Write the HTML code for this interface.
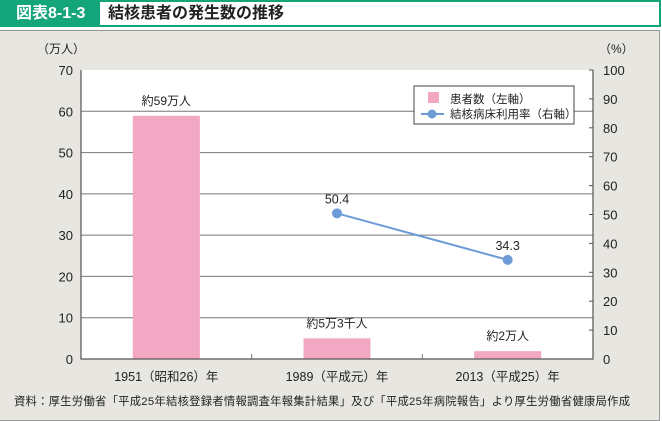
<!DOCTYPE html>
<html><head><meta charset="utf-8"><style>
body{margin:0;width:662px;height:421px;background:#fff;font-family:"Liberation Sans","Noto Sans CJK JP",sans-serif;overflow:hidden;position:relative}
.hdr{position:absolute;left:0;top:0;width:657px;height:23px;border:2px solid #14a57a;background:#fff}
.lab{position:absolute;left:0;top:0;width:98px;height:23px;background:#14a57a;color:#fff;font-size:16px;font-weight:bold;line-height:23px;text-indent:14px}
.ttl{position:absolute;left:106px;top:0;font-size:16px;font-weight:bold;line-height:23px;color:#222}
.panel{position:absolute;left:0;top:30px;width:659px;height:389px;background:#e8e6e0;border:1px solid #999;border-left:none}
svg{position:absolute;left:0;top:0}
text{font-family:"Liberation Sans","Noto Sans CJK JP",sans-serif;fill:#222}
</style></head><body>
<div class="hdr"><div class="lab">図表8-1-3</div><div class="ttl">結核患者の発生数の推移</div></div>
<div class="panel"></div>
<svg id="c" width="662" height="421"></svg>
<script>
const categories=["1951（昭和26）年","1989（平成元）年","2013（平成25）年"];
const patients=[58.9,5.0,1.9];
const patientLabels=["約59万人","約5万3千人","約2万人"];
const bedRate=[null,50.4,34.3];
const leftTicks=[0,10,20,30,40,50,60,70];
const rightTicks=[0,10,20,30,40,50,60,70,80,90,100];
const L=81,R=593,T=70,B=359;
const yL=v=>B-(B-T)*v/70, yR=v=>B-(B-T)*v/100;
const band=(R-L)/3, xC=i=>L+band*(i+0.5);
const s=document.getElementById('c');const NS='http://www.w3.org/2000/svg';
function el(t,a,txt){const e=document.createElementNS(NS,t);for(const k in a)e.setAttribute(k,a[k]);if(txt!=null)e.textContent=txt;s.appendChild(e);return e;}
let e=el('rect',{x:L,y:T,width:R-L,height:B-T,fill:'#fff'});

leftTicks.forEach(v=>{const y=yL(v);
 if(v>0&&v<70){e=el('line',{x1:L,x2:R,y1:y,y2:y,stroke:'#777','stroke-width':1});}
 e=el('text',{x:L-8,y:y+5,'text-anchor':'end','font-size':13},v);});
rightTicks.forEach(v=>{const y=yR(v);
 e=el('line',{x1:R-4,x2:R,y1:y,y2:y,stroke:'#555'});
 e=el('text',{x:R+10,y:y+5,'font-size':13},v);});
for(let i=1;i<3;i++){e=el('line',{x1:L+band*i,x2:L+band*i,y1:B-5,y2:B,stroke:'#777'});}
patients.forEach((v,i)=>{const w=67;
 e=el('rect',{x:xC(i)-w/2,y:yL(v),width:w,height:B-yL(v),fill:'#f2a8c2'});
 e=el('text',{x:xC(i),y:yL(v)-11,'text-anchor':'middle','font-size':12},patientLabels[i]);
 e=el('text',{x:xC(i),y:B+22,'text-anchor':'middle','font-size':12.5},categories[i]);});
e=el('path',{d:'M'+L+' '+T+'V'+B+'H'+R+'V'+T,fill:'none',stroke:'#555','stroke-width':1.2});
const pts=bedRate.map((v,i)=>v==null?null:[xC(i),yR(v)]).filter(p=>p);
e=el('polyline',{points:pts.map(p=>p.join(',')).join(' '),fill:'none',stroke:'#6d9bd6','stroke-width':2});
bedRate.forEach((v,i)=>{if(v==null)return;
 e=el('circle',{cx:xC(i),cy:yR(v),r:5,fill:'#6d9bd6'});
 e=el('text',{x:xC(i),y:yR(v)-10,'text-anchor':'middle','font-size':12.5},v.toFixed(1));});
e=el('text',{x:37,y:53,'font-size':12},'（万人）');
e=el('text',{x:599,y:53,'font-size':12},'（%）');
e=el('rect',{x:414,y:86,width:160,height:38,fill:'#fff',stroke:'#444'});
e=el('rect',{x:428,y:92,width:11,height:11,fill:'#f2a8c2'});
e=el('text',{x:450,y:103,'font-size':11.5},'患者数（左軸）');
e=el('line',{x1:421,x2:444,y1:114,y2:114,stroke:'#6d9bd6','stroke-width':2});
e=el('circle',{cx:432,cy:114,r:4.5,fill:'#6d9bd6'});
e=el('text',{x:450,y:118,'font-size':11.5},'結核病床利用率（右軸）');
e=el('text',{x:14,y:405,'font-size':11.3,textLength:616,lengthAdjust:'spacing'},'資料：厚生労働省「平成25年結核登録者情報調査年報集計結果」及び「平成25年病院報告」より厚生労働省健康局作成');
</script>
</body></html>
